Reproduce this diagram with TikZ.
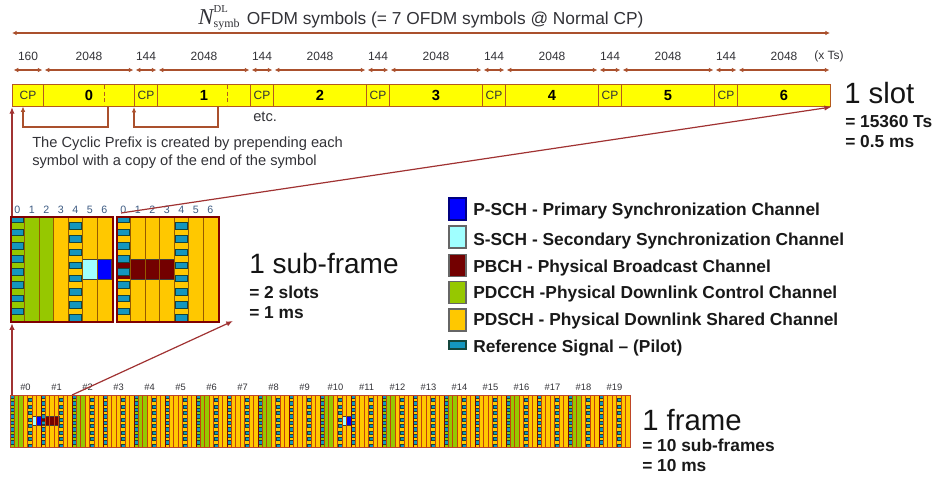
\documentclass[tikz,border=0pt]{standalone}
\usepackage{fontspec}
\setmainfont{Liberation Sans}
\newfontfamily\serifN{Liberation Serif}
\usetikzlibrary{arrows.meta}
\definecolor{brn}{RGB}{170,80,45}
\definecolor{lnk}{RGB}{160,50,50}
\definecolor{barfill}{RGB}{255,255,0}
\definecolor{barline}{RGB}{180,90,30}
\definecolor{psch}{RGB}{0,0,255}
\definecolor{ssch}{RGB}{160,255,255}
\definecolor{pbch}{RGB}{115,0,0}
\definecolor{pdcch}{RGB}{150,200,0}
\definecolor{pdsch}{RGB}{255,200,0}
\definecolor{pilot}{RGB}{20,150,190}
\definecolor{pilotedge}{RGB}{20,70,60}
\definecolor{colsep}{RGB}{150,90,0}
\definecolor{frsep}{RGB}{195,65,10}
\definecolor{boxline}{RGB}{128,0,0}
\definecolor{txtgrey}{RGB}{50,50,55}
\definecolor{numblue}{RGB}{60,90,130}
\definecolor{frline}{RGB}{190,70,40}
\tikzset{
  segbox/.style={draw=barline, fill=barfill, line width=0.8pt, inner sep=0, minimum height=16.5pt, anchor=north west},
  dimarrow/.style={draw=brn, line width=0.8pt, {Latex[length=3.5pt,width=3.5pt]}-{Latex[length=3.5pt,width=3.5pt]}},
  dimlbl/.style={font=\fontsize{9}{10}\selectfont, text=txtgrey},
  brk/.style={draw=brn, line width=0.8pt, -{Latex[length=4pt,width=3.5pt]}},
  link/.style={draw=lnk, line width=0.9pt, -{Latex[length=5pt,width=4pt]}},
  pil/.style={fill=pilot, draw=pilotedge, line width=0.3pt},
  sepln/.style={draw=colsep, line width=0.45pt},
  special/.style={draw=black!75, line width=0.4pt},
  sfbox/.style={draw=boxline, line width=1.6pt, inner sep=0, anchor=north west},
  frbox/.style={draw=frline, line width=0.8pt, inner sep=0, anchor=north west},
  lgsq/.style={minimum width=12.75pt, minimum height=16.5pt, inner sep=0, line width=0.8pt},
  lgtxt/.style={anchor=base west, inner sep=0, font=\bfseries\fontsize{13}{15}\selectfont, text=black!90},
  bigtxt/.style={anchor=base west, inner sep=0, font=\fontsize{22}{24}\selectfont, text=black!92},
  subtxt/.style={anchor=base west, inner sep=0, font=\bfseries\fontsize{13}{15}\selectfont, text=black!90},
  colnum/.style={font=\fontsize{8}{9}\selectfont, text=numblue, inner sep=0},
  frnum/.style={font=\fontsize{7}{8}\selectfont, text=txtgrey, inner sep=0}
}
% background of one slot: x y colw h first
\newcommand\slotbg[5]{%
  \fill[pdsch] (#1,#2) rectangle ({#1+7*#3},{#2+#4});
  \ifnum#5=1 \fill[pdcch] (#1,#2) rectangle ({#1+3*#3},{#2+#4});\fi}
% pilots and column separators: x y colw h sepstyle
\newcommand\slotfg[5]{%
  \foreach \k in {0,...,7}{
    \filldraw[pil] ({#1+0.1*#3},{#2+\k*#4/8}) rectangle ({#1+0.9*#3},{#2+(\k+0.5)*#4/8});
    \filldraw[pil] ({#1+4.1*#3},{#2+(\k+0.5)*#4/8}) rectangle ({#1+4.9*#3},{#2+(\k+1)*#4/8});
  }
  \foreach \c in {1,...,6}{\draw[#5] ({#1+\c*#3},#2) -- ({#1+\c*#3},{#2+#4});}}
\newcommand\seg[4]{\node[segbox, minimum width={#3*0.75pt}] (#1) at (#2,84) {#4};}
\begin{document}
\begin{tikzpicture}[x=0.75pt,y=-0.75pt]
\useasboundingbox (0,0) rectangle (937,476);
% ---------- title ----------
\node[text=txtgrey, inner sep=0, anchor=base] (title) at (421,24) {${\hbox{\serifN\itshape\fontsize{17}{17}\selectfont N}}^{\hbox{\serifN\fontsize{8}{8}\selectfont DL}}_{\hbox{\serifN\fontsize{9}{9}\selectfont symb}}$\hspace{5pt}{\fontsize{13}{15}\selectfont OFDM symbols (= 7 OFDM symbols @ Normal CP)}};
\coordinate (tl) at (12,33);
\coordinate (tr) at (830,33);
\draw[dimarrow] (tl) -- (tr);
% ---------- slot bar ----------
\seg{cp0}{12}{31}{\textcolor{txtgrey}{\fontsize{9}{10}\selectfont CP}}
\seg{s0}{43}{91}{\bfseries\fontsize{11}{12}\selectfont 0}
\seg{cp1}{134}{23}{\textcolor{txtgrey}{\fontsize{9}{10}\selectfont CP}}
\seg{s1}{157}{93}{\bfseries\fontsize{11}{12}\selectfont 1}
\seg{cp2}{250}{23}{\textcolor{txtgrey}{\fontsize{9}{10}\selectfont CP}}
\seg{s2}{273}{93}{\bfseries\fontsize{11}{12}\selectfont 2}
\seg{cp3}{366}{23}{\textcolor{txtgrey}{\fontsize{9}{10}\selectfont CP}}
\seg{s3}{389}{93}{\bfseries\fontsize{11}{12}\selectfont 3}
\seg{cp4}{482}{23}{\textcolor{txtgrey}{\fontsize{9}{10}\selectfont CP}}
\seg{s4}{505}{93}{\bfseries\fontsize{11}{12}\selectfont 4}
\seg{cp5}{598}{23}{\textcolor{txtgrey}{\fontsize{9}{10}\selectfont CP}}
\seg{s5}{621}{93}{\bfseries\fontsize{11}{12}\selectfont 5}
\seg{cp6}{714}{23}{\textcolor{txtgrey}{\fontsize{9}{10}\selectfont CP}}
\seg{s6}{737}{93}{\bfseries\fontsize{11}{12}\selectfont 6}
\draw[barline, densely dashed, line width=0.5pt] (104,85) -- (104,105);
\draw[barline, densely dashed, line width=0.5pt] (227,85) -- (227,105);
% dimension arrows and labels
\foreach \n/\l in {cp0/160,s0/2048,cp1/144,s1/2048,cp2/144,s2/2048,cp3/144,s3/2048,cp4/144,s4/2048,cp5/144,s5/2048,cp6/144,s6/2048}{
  \draw[dimarrow] ([xshift=1.2pt,yshift=10.5pt]\n.north west) -- ([xshift=-1.2pt,yshift=10.5pt]\n.north east);
  \node[dimlbl] (d\n) at ([yshift=21pt]\n.north) {\l};
}
\node[dimlbl] (xts) at (829,56) {(x Ts)};
% cyclic prefix brackets
\coordinate (cyA) at (108,106);
\coordinate (cyB) at (23,106.5);
\coordinate (cyC) at (218,106);
\draw[brk] (cyA) -- ++(0,21) -| (cyB);
\draw[brk] (cyC) -- ++(0,21) -| (cp1.south west);
\node[anchor=base west, inner sep=0, font=\fontsize{11}{13}\selectfont, text=txtgrey] (etc) at (253,121) {etc.};
\node[anchor=base west, inner sep=0, font=\fontsize{11}{13}\selectfont, text=txtgrey] (cpA) at (32,147) {The Cyclic Prefix is created by prepending each};
\node[anchor=base west, inner sep=0, font=\fontsize{11}{13}\selectfont, text=txtgrey] (cpB) at (32,165) {symbol with a copy of the end of the symbol};
% slot labels
\node[bigtxt] (slotT) at (844,103) {1 slot};
\node[subtxt] (slotA) at (845,127) {= 15360 Ts};
\node[subtxt] (slotB) at (845,147) {= 0.5 ms};
% ---------- sub-frame ----------
\slotbg{10}{216}{14.5}{105}{1}
\slotbg{116}{216}{14.5}{105}{0}
\filldraw[special, fill=ssch] ({10+5*14.5},259) rectangle ({10+6*14.5},279);
\filldraw[special, fill=psch] ({10+6*14.5},259) rectangle ({10+7*14.5},279);
\fill[pbch] (116,259) rectangle ({116+4*14.5},279);
\foreach \c in {1,2,3}{\draw[special] ({116+\c*14.5},259) rectangle ({116+(\c+1)*14.5},279);}
\slotfg{10}{216}{14.5}{105}{sepln}
\slotfg{116}{216}{14.5}{105}{sepln}
\node[sfbox, minimum width={101.5*0.75pt}, minimum height={105*0.75pt}] (sfA) at (10,216) {};
\node[sfbox, minimum width={101.5*0.75pt}, minimum height={105*0.75pt}] (sfB) at (116,216) {};
\foreach \c in {0,...,6}{
  \node[colnum] (na\c) at ({10+(\c+0.5)*14.5},210) {\c};
  \node[colnum] (nb\c) at ({116+(\c+0.5)*14.5},210) {\c};
}
\node[bigtxt, font=\fontsize{21}{23}\selectfont] (sfT) at (249,273) {1 sub-frame};
\node[subtxt] (sfTa) at (249,298) {= 2 slots};
\node[subtxt] (sfTb) at (249,318) {= 1 ms};
% ---------- legend ----------
\node[lgsq, fill=psch, draw=blue!50!black] (lg1) at (457.5,209) {};
\node[lgsq, fill=ssch, draw=black!60] (lg2) at (457.5,237) {};
\node[lgsq, fill=pbch, draw=black!60] (lg3) at (457.5,265.5) {};
\node[lgsq, fill=pdcch, draw=black!60] (lg4) at (457.5,292.5) {};
\node[lgsq, fill=pdsch, draw=black!60] (lg5) at (457.5,320) {};
\node[lgsq, minimum height=6pt, fill=pilot, draw=pilotedge] (lg6) at (457.5,345) {};
\node[lgtxt] (lt1) at (473,215) {P-SCH - Primary Synchronization Channel};
\node[lgtxt] (lt2) at (473,245) {S-SCH - Secondary Synchronization Channel};
\node[lgtxt] (lt3) at (473,272) {PBCH - Physical Broadcast Channel};
\node[lgtxt] (lt4) at (473,298) {PDCCH -Physical Downlink Control Channel};
\node[lgtxt] (lt5) at (473,325) {PDSCH - Physical Downlink Shared Channel};
\node[lgtxt] (lt6) at (473,352) {Reference Signal – (Pilot)};
% ---------- frame ----------
\foreach \i in {0,...,19}{
  \pgfmathtruncatemacro\ev{mod(\i+1,2)}
  \pgfmathsetmacro\fx{10+31*\i}
  \slotbg{\fx}{395}{4.4286}{52}{\ev}
}
\filldraw[special, line width=0.2pt, fill=ssch] ({10+5*4.4286},416.5) rectangle ({10+6*4.4286},425.5);
\filldraw[special, line width=0.2pt, fill=psch] ({10+6*4.4286},416.5) rectangle ({10+7*4.4286},425.5);
\filldraw[special, line width=0.2pt, fill=pbch] (41,416.5) rectangle ({41+4*4.4286},425.5);
\filldraw[special, line width=0.2pt, fill=ssch] ({320+5*4.4286},416.5) rectangle ({320+6*4.4286},425.5);
\filldraw[special, line width=0.2pt, fill=psch] ({320+6*4.4286},416.5) rectangle ({320+7*4.4286},425.5);
\foreach \i in {0,...,19}{
  \pgfmathsetmacro\fx{10+31*\i}
  \slotfg{\fx}{395}{4.4286}{52}{draw=frsep, line width=0.6pt}
  \draw[draw=boxline, line width=0.6pt] (\fx,395) -- (\fx,447);
  \node[frnum] (fn\i) at ({\fx+15.5},387) {\#\i};
}
\node[frbox, minimum width={620*0.75pt}, minimum height={52*0.75pt}] (frame) at (10,395) {};
\node[bigtxt] (frT) at (642,430) {1 frame};
\node[subtxt] (frTa) at (642,451) {= 10 sub-frames};
\node[subtxt] (frTb) at (642,471) {= 10 ms};
% ---------- connectors ----------
\draw[link] ([xshift=1.5pt]sfA.north west) -- (cp0.south west);
\draw[link] ([xshift=1.5pt]frame.north west) -- ([xshift=1.5pt]sfA.south west);
\coordinate (sfBtop) at (121,213);
\draw[link] (sfBtop) -- (s6.south east);
\coordinate (sf0end) at (72,395);
\coordinate (sfArr) at (233,321);
\draw[link] (sf0end) -- (sfArr);
\end{tikzpicture}
\end{document}
